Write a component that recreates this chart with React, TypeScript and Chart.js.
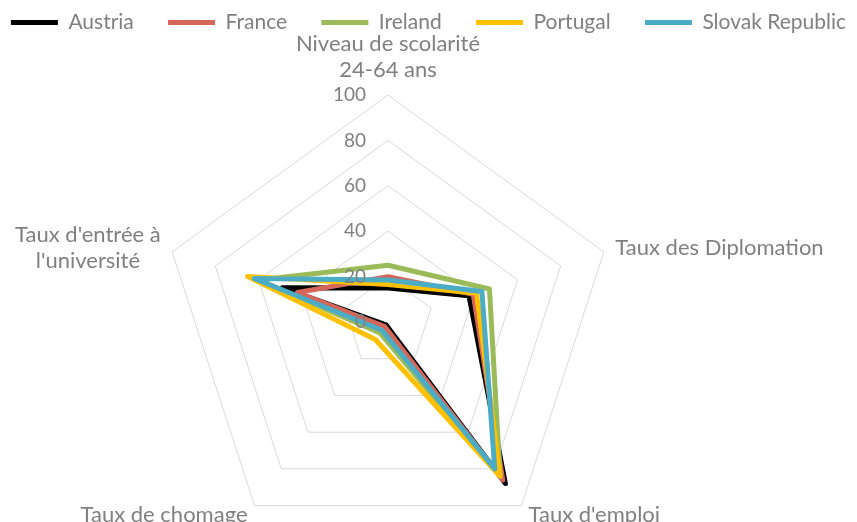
import React, { useEffect, useRef } from "react";
import { Chart, registerables } from "chart.js";

Chart.register(...registerables);

// ---- data ----
const axisLabels: string[][] = [
  ["Niveau de scolarité", "24-64 ans"],
  ["Taux des Diplomation"],
  ["Taux d'emploi"],
  ["Taux de chomage"],
  ["Taux d'entrée à", "l'université"],
];
const seriesNames = ["Austria", "France", "Ireland", "Portugal", "Slovak Republic"];
const austria = [15, 37.5, 88, 1.5, 49];
const france = [20, 39.5, 86, 2.5, 42];
const ireland = [25, 47, 84, 6, 60];
const portugal = [16.5, 41, 84, 9.5, 65];
const slovak = [18.5, 43.5, 80, 4.5, 62];
const tickMin = 0;
const tickMax = 100;
const tickStep = 20;

// ---- style ----
const seriesColors = ["#000000", "#d4665a", "#9bbb59", "#ffc000", "#4bacc6"];
const TEXT_COLOR = "#808080";
const GRID_COLOR = "#d9d9d9";
const FONT = "Lato";
const LEGEND_SIZE = 21;
const LABEL_SIZE = 22;
const TICK_SIZE = 19;
const LINE_H = 26;
const LABEL_PAD = 12;
const TICK_GAP = 22;
const CENTER_X = 388;
const CENTER_Y = 322;
const RADIUS = 227;
const LEGEND_TRAIL = "\u00a0\u00a0\u00a0\u00a0\u00a0\u00a0";

const textPlugin = {
  id: "radarText",
  afterDatasetsDraw(chart: any) {
    const scale = chart.scales.r;
    const ctx = chart.ctx as CanvasRenderingContext2D;
    ctx.save();
    ctx.fillStyle = TEXT_COLOR;
    // tick labels
    ctx.font = `${TICK_SIZE}px ${FONT}`;
    ctx.textAlign = "right";
    ctx.textBaseline = "middle";
    scale.ticks.forEach((t: any) => {
      const d = scale.getDistanceFromCenterForValue(t.value);
      ctx.fillText(String(t.label), scale.xCenter - TICK_GAP, scale.yCenter - d);
    });
    // point labels
    ctx.font = `${LABEL_SIZE}px ${FONT}`;
    ctx.textAlign = "center";
    axisLabels.forEach((lines, i) => {
      const p = scale.getPointPosition(i, scale.drawingArea + LABEL_PAD);
      const dx = p.x - scale.xCenter;
      const dy = p.y - scale.yCenter;
      const bw = Math.max(...lines.map((l) => ctx.measureText(l).width));
      let left: number;
      if (Math.abs(dx) < 1) left = p.x - bw / 2;
      else if (dx > 0) left = p.x;
      else left = p.x - bw;
      const bh = LINE_H * lines.length;
      let top: number;
      if (Math.abs(dx) < 1 && dy < 0) top = p.y - bh;
      else top = p.y - bh / 2;
      lines.forEach((l, j) => {
        ctx.fillText(l, left + bw / 2, top + LINE_H * (j + 0.5));
      });
    });
    ctx.restore();
  },
};

export default function App() {
  const canvasRef = useRef<HTMLCanvasElement | null>(null);

  useEffect(() => {
    if (!canvasRef.current) return;
    const values = [austria, france, ireland, portugal, slovak];
    const chart = new Chart(canvasRef.current, {
      type: "radar",
      data: {
        labels: axisLabels,
        datasets: seriesNames.map((name, i) => ({
          label: name,
          data: values[i],
          borderColor: seriesColors[i],
          backgroundColor: seriesColors[i],
          borderWidth: 5,
          borderJoinStyle: "round" as const,
          fill: false,
          pointRadius: 0,
          pointHoverRadius: 0,
          tension: 0,
          order: seriesNames.length - i,
        })),
      },
      options: {
        animation: false,
        responsive: true,
        maintainAspectRatio: false,
        layout: { padding: { top: 10 } },
        scales: {
          r: {
            min: tickMin,
            max: tickMax,
            ticks: { stepSize: tickStep, display: false, showLabelBackdrop: false },
            grid: { color: GRID_COLOR, lineWidth: 1 },
            angleLines: { display: false },
            pointLabels: { display: false },
            afterFit: (s: any) => {
              s.xCenter = CENTER_X;
              s.yCenter = CENTER_Y;
              s.drawingArea = RADIUS;
            },
          },
        },
        plugins: {
          tooltip: { enabled: false },
          legend: {
            position: "top",
            labels: {
              boxWidth: 47,
              boxHeight: 5,
              padding: 2,
              color: TEXT_COLOR,
              font: { family: FONT, size: LEGEND_SIZE },
              generateLabels: (c: any) =>
                c.data.datasets.map((ds: any, i: number) => ({
                  text: i < c.data.datasets.length - 1 ? ds.label + LEGEND_TRAIL : ds.label,
                  fillStyle: ds.borderColor,
                  strokeStyle: ds.borderColor,
                  lineWidth: 0,
                  fontColor: TEXT_COLOR,
                  hidden: false,
                  datasetIndex: i,
                })),
            },
          },
        },
      },
      plugins: [textPlugin],
    });
    return () => chart.destroy();
  }, []);

  return (
    <div style={{ position: "fixed", left: 0, top: 0, width: 857, height: 522, background: "#fff" }}>
      <canvas ref={canvasRef} />
    </div>
  );
}
